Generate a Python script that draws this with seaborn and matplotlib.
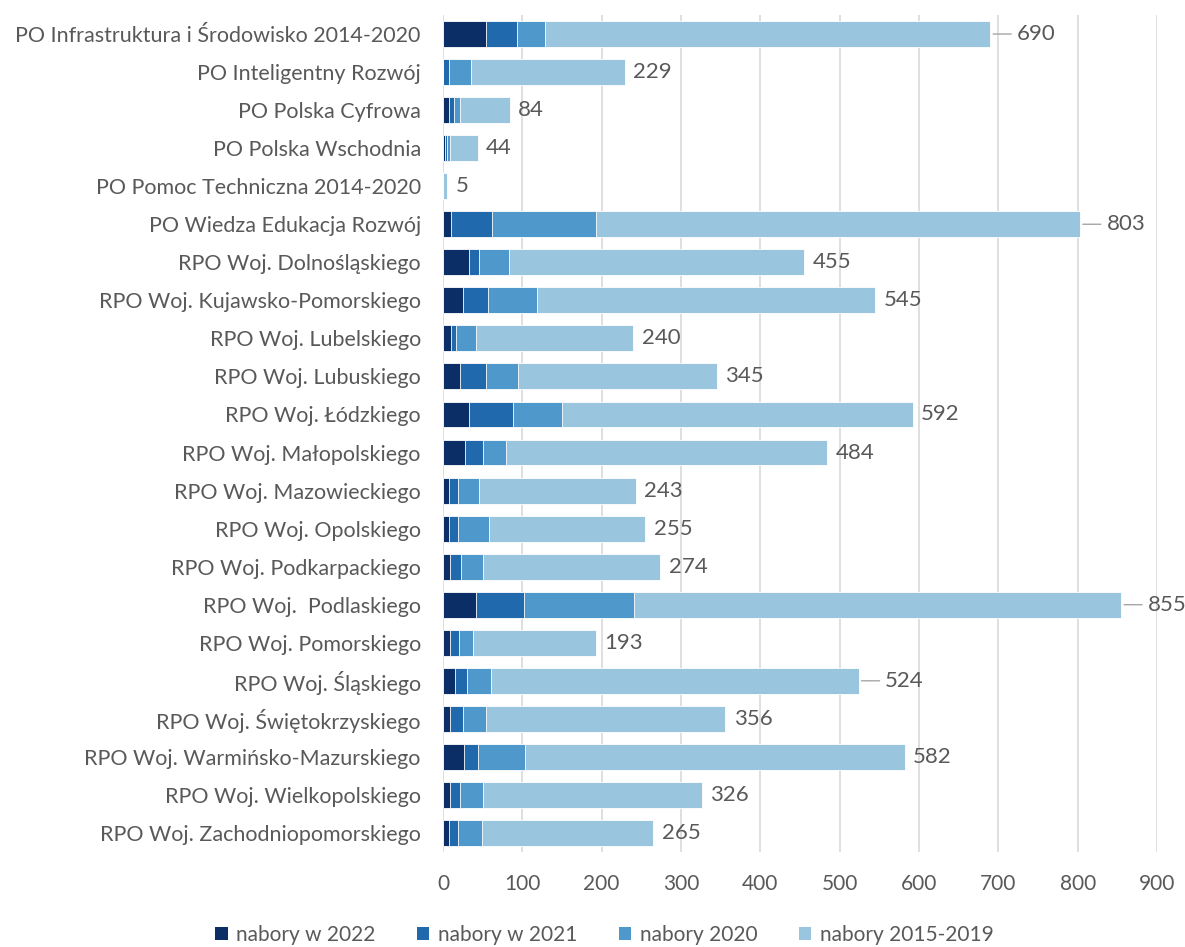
import matplotlib
matplotlib.use("Agg")
import matplotlib.pyplot as plt
import seaborn as sns
import pandas as pd
import numpy as np
from matplotlib.patches import Patch

categories = [
    "PO Infrastruktura i Środowisko 2014-2020",
    "PO Inteligentny Rozwój",
    "PO Polska Cyfrowa",
    "PO Polska Wschodnia",
    "PO Pomoc Techniczna 2014-2020",
    "PO Wiedza Edukacja Rozwój",
    "RPO Woj. Dolnośląskiego",
    "RPO Woj. Kujawsko-Pomorskiego",
    "RPO Woj. Lubelskiego",
    "RPO Woj. Lubuskiego",
    "RPO Woj. Łódzkiego",
    "RPO Woj. Małopolskiego",
    "RPO Woj. Mazowieckiego",
    "RPO Woj. Opolskiego",
    "RPO Woj. Podkarpackiego",
    "RPO Woj.  Podlaskiego",
    "RPO Woj. Pomorskiego",
    "RPO Woj. Śląskiego",
    "RPO Woj. Świętokrzyskiego",
    "RPO Woj. Warmińsko-Mazurskiego",
    "RPO Woj. Wielkopolskiego",
    "RPO Woj. Zachodniopomorskiego",
]
nabory_2022 = [54, 0, 7, 2, 0, 10, 33, 25, 10, 21, 33, 28, 7, 7, 9, 41, 9, 15, 9, 26, 9, 7]
nabory_2021 = [39, 7, 7, 3, 0, 52, 13, 32, 6, 33, 55, 23, 12, 12, 14, 61, 11, 15, 16, 18, 12, 12]
nabory_2020 = [36, 28, 7, 4, 0, 131, 37, 62, 25, 40, 62, 29, 26, 39, 27, 139, 18, 31, 29, 59, 29, 30]
nabory_2015_2019 = [561, 194, 63, 35, 5, 610, 372, 426, 199, 251, 442, 404, 198, 197, 224, 614, 155, 463, 302, 479, 276, 216]
series_names = ["nabory w 2022", "nabory w 2021", "nabory 2020", "nabory 2015-2019"]
x_ticks = [0, 100, 200, 300, 400, 500, 600, 700, 800, 900]
leader_labels = {"PO Infrastruktura i Środowisko 2014-2020", "PO Wiedza Edukacja Rozwój",
                 "RPO Woj.  Podlaskiego", "RPO Woj. Śląskiego"}

colors = ["#0B2E66", "#1F69AC", "#4F98CB", "#9AC5DE"]
text_color = "#595959"

df = pd.DataFrame({
    "program": categories,
    "s2022": nabory_2022,
    "s2021": nabory_2021,
    "s2020": nabory_2020,
    "s1519": nabory_2015_2019,
})
df["c1"] = df["s2022"]
df["c2"] = df["c1"] + df["s2021"]
df["c3"] = df["c2"] + df["s2020"]
df["c4"] = df["c3"] + df["s1519"]

sns.set_theme(style="white")
plt.rcParams["font.family"] = ["Lato", "DejaVu Sans"]

fig = plt.figure(figsize=(11.85, 9.47), dpi=100)
ax = fig.add_axes([443 / 1185, 1 - 852 / 947, (1157 - 443) / 1185, (852 - 15) / 947])

for col, color in zip(["c4", "c3", "c2", "c1"], colors[::-1]):
    sns.barplot(data=df, x=col, y="program", orient="h", color=color,
                width=0.68, ax=ax, linewidth=0.6, edgecolor="#ffffff", saturation=1)

ax.set_xlim(0, 900)
ax.set_ylim(len(categories) - 0.5, -0.5)
ax.set_xticks(x_ticks)
ax.set_xticklabels([str(t) for t in x_ticks])
ax.xaxis.grid(True, color="#D9D9D9", linewidth=1.2)
ax.set_axisbelow(True)
for s in ax.spines.values():
    s.set_visible(False)
ax.set_xlabel("")
ax.set_ylabel("")
ax.tick_params(axis="x", colors=text_color, labelsize=15, length=0, pad=16)
ax.tick_params(axis="y", colors=text_color, labelsize=15.5, length=0, pad=16)

for i, (name, tot) in enumerate(zip(categories, df["c4"])):
    if name in leader_labels:
        ax.annotate("", xy=(tot, i), xytext=(15, 0), textcoords="offset points",
                    xycoords="data",
                    arrowprops=dict(arrowstyle="-", color="#A6A6A6", lw=1,
                                    shrinkA=0, shrinkB=2))
        ax.annotate(str(tot), xy=(tot, i), xytext=(19, 0), textcoords="offset points",
                    va="center", ha="left", color=text_color, fontsize=16)
    else:
        ax.annotate(str(tot), xy=(tot, i), xytext=(6, 0), textcoords="offset points",
                    va="center", ha="left", color=text_color, fontsize=16)

handles = [Patch(facecolor=c, edgecolor="none") for c in colors]
fig.legend(handles, series_names, loc="center", bbox_to_anchor=(0.51, 1 - 935 / 947),
           ncol=4, frameon=False, fontsize=15, handlelength=0.6, handleheight=0.6,
           handletextpad=0.4, columnspacing=2.0, labelcolor=text_color)

fig.savefig("out.png", dpi=100)
